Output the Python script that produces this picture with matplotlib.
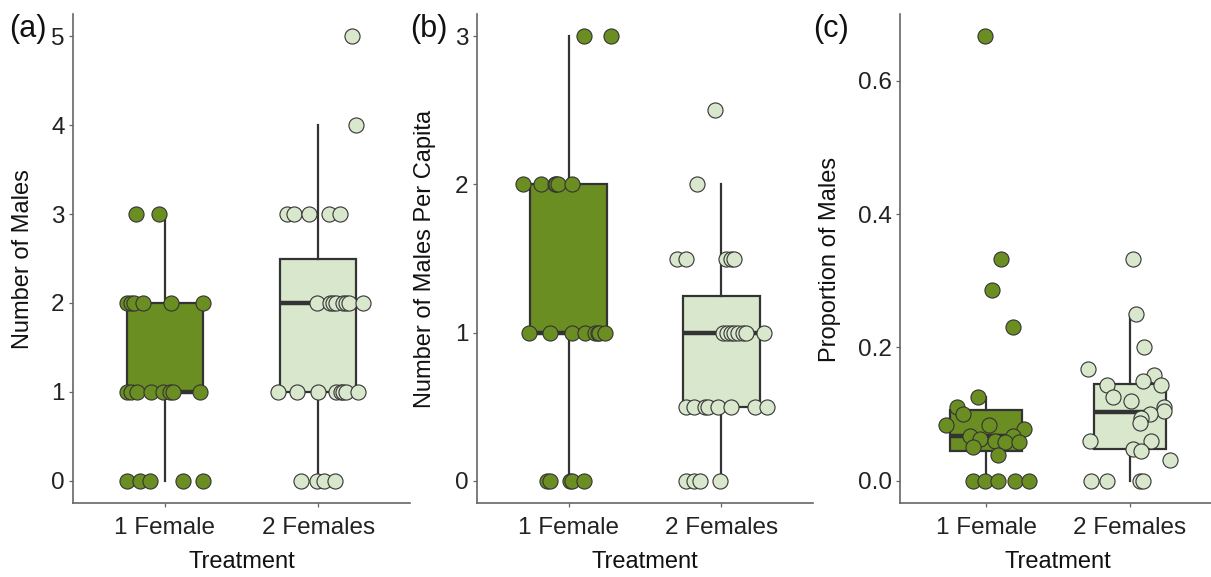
import numpy as np
import matplotlib
matplotlib.use("Agg")
import matplotlib.pyplot as plt

plt.rcParams['font.family'] = ['Liberation Sans', 'DejaVu Sans']

groups = ['1 Female', '2 Females']

# (a) number of males, values and jitter offsets
a_f1 = [3, 3,
        2, 2, 2, 2, 2, 2,
        1, 1, 1, 1, 1, 1, 1, 1,
        0, 0, 0, 0, 0]
a_f1_jit = [-0.19, -0.04,
            -0.25, -0.22, -0.20, -0.14, 0.04, 0.25,
            -0.25, -0.22, -0.18, -0.09, -0.01, 0.03, 0.05, 0.23,
            -0.25, -0.16, -0.10, 0.12, 0.25]
a_f2 = [5, 4,
        3, 3, 3, 3, 3,
        2, 2, 2, 2, 2, 2, 2, 2,
        1, 1, 1, 1, 1, 1, 1, 1,
        0, 0, 0, 0]
a_f2_jit = [0.22, 0.25,
            -0.20, -0.16, -0.06, 0.07, 0.14,
            -0.01, 0.08, 0.10, 0.12, 0.16, 0.18, 0.20, 0.29,
            -0.26, -0.14, 0.00, 0.12, 0.15, 0.16, 0.18, 0.26,
            -0.11, -0.01, 0.04, 0.11]

# (b) number of males per capita
b_f1 = [3, 3,
        2, 2, 2, 2, 2, 2,
        1, 1, 1, 1, 1, 1, 1, 1,
        0, 0, 0, 0, 0]
b_f1_jit = [0.10, 0.28,
            -0.30, -0.18, -0.09, -0.08, -0.07, 0.02,
            -0.26, -0.12, 0.02, 0.11, 0.17, 0.19, 0.20, 0.24,
            -0.14, -0.12, 0.01, 0.02, 0.10]
b_f2 = [2.5, 2,
        1.5, 1.5, 1.5, 1.5, 1.5,
        1, 1, 1, 1, 1, 1, 1, 1,
        0.5, 0.5, 0.5, 0.5, 0.5, 0.5, 0.5, 0.5,
        0, 0, 0, 0]
b_f2_jit = [-0.04, -0.16,
            -0.29, -0.23, 0.03, 0.06, 0.08,
            0.01, 0.04, 0.06, 0.08, 0.11, 0.14, 0.16, 0.28,
            -0.23, -0.18, -0.11, -0.09, -0.02, 0.06, 0.22, 0.30,
            -0.23, -0.18, -0.14, -0.01]

# (c) proportion of males
c_f1 = [0.667, 0.333, 0.286, 0.231, 0.125, 0.111, 0.100, 0.083, 0.083,
        0.077, 0.067, 0.067, 0.0625, 0.059, 0.058, 0.058, 0.050, 0.039,
        0, 0, 0, 0, 0]
c_f1_jit = [-0.01, 0.10, 0.04, 0.19, -0.06, -0.20, -0.16, -0.28, 0.02,
            0.26, -0.11, 0.19, -0.04, 0.06, 0.13, 0.23, -0.09, 0.08,
            -0.09, -0.01, 0.08, 0.20, 0.30]
c_f2 = [0.333, 0.250, 0.200, 0.167, 0.158, 0.150, 0.143, 0.143, 0.125,
        0.120, 0.111, 0.105, 0.100, 0.094, 0.086, 0.059, 0.059, 0.048,
        0.045, 0.031, 0, 0, 0, 0]
c_f2_jit = [0.02, 0.04, 0.10, -0.29, 0.17, 0.09, -0.16, 0.22, -0.12,
            0.01, 0.24, 0.24, 0.14, 0.08, 0.07, -0.28, 0.15, 0.02,
            0.08, 0.28, -0.27, -0.16, 0.07, 0.09]

dark = '#6b8e23'
light = '#d9e8cc'
edge = '#333333'

fig = plt.figure(figsize=(12.11, 5.77), dpi=100)
W, H = 1211, 577


def make_ax(l, r, t, b):
    return fig.add_axes([l / W, 1 - b / H, (r - l) / W, (b - t) / H])


panels = [
    (make_ax(73, 410, 14, 503), a_f1, a_f1_jit, a_f2, a_f2_jit,
     (-0.25, 5.25), [0, 1, 2, 3, 4, 5], ['0', '1', '2', '3', '4', '5'],
     'Number of Males', '(a)', 9, 23, 242),
    (make_ax(477, 813, 14, 503), b_f1, b_f1_jit, b_f2, b_f2_jit,
     (-0.15, 3.15), [0, 1, 2, 3], ['0', '1', '2', '3'],
     'Number of Males Per Capita', '(b)', 410, 425, 645),
    (make_ax(900, 1216, 14, 503), c_f1, c_f1_jit, c_f2, c_f2_jit,
     (-0.0333, 0.7), [0, 0.2, 0.4, 0.6], ['0.0', '0.2', '0.4', '0.6'],
     'Proportion of Males', '(c)', 813, 830, 1058),
]

for (ax, y1, j1, y2, j2, ylim, yt, ytl, ylab, tag, tagx, ylx, txx) in panels:
    bp = ax.boxplot([y1, y2], positions=[1, 2], widths=0.5, patch_artist=True,
                    showfliers=False, showcaps=False, whis=1.5,
                    boxprops=dict(linewidth=1.6, edgecolor=edge),
                    whiskerprops=dict(linewidth=1.6, color=edge),
                    medianprops=dict(linewidth=3.2, color=edge))
    bp['boxes'][0].set_facecolor(dark)
    bp['boxes'][1].set_facecolor(light)

    ax.scatter(1 + np.array(j1), y1, s=118, c=dark, edgecolors=edge,
               linewidths=0.8, zorder=3, clip_on=False)
    ax.scatter(2 + np.array(j2), y2, s=118, c=light, edgecolors=edge,
               linewidths=0.8, zorder=3, clip_on=False)

    ax.set_xlim(0.4, 2.6)
    ax.set_ylim(*ylim)
    ax.set_xticks([1, 2])
    ax.set_xticklabels(groups)
    ax.set_yticks(yt)
    ax.set_yticklabels(ytl)
    ax.tick_params(labelsize=17.5, labelcolor='#222222', color='#666666',
                   length=3, width=0.9, pad=3)
    ax.tick_params(axis='x', pad=7)
    for s in ['top', 'right']:
        ax.spines[s].set_visible(False)
    for s in ['left', 'bottom']:
        ax.spines[s].set_color('#666666')
        ax.spines[s].set_linewidth(1.2)

    fig.text(ylx / W, 1 - 259 / H, ylab, rotation=90, ha='center',
             va='center', fontsize=17, color='#111111')
    fig.text(txx / W, 1 - 562 / H, 'Treatment', ha='center', va='center',
             fontsize=17, color='#111111')
    fig.text(tagx / W, 1 - 29 / H, tag, ha='left', va='center',
             fontsize=22, color='#111111')

fig.savefig('out.png', dpi=100)
